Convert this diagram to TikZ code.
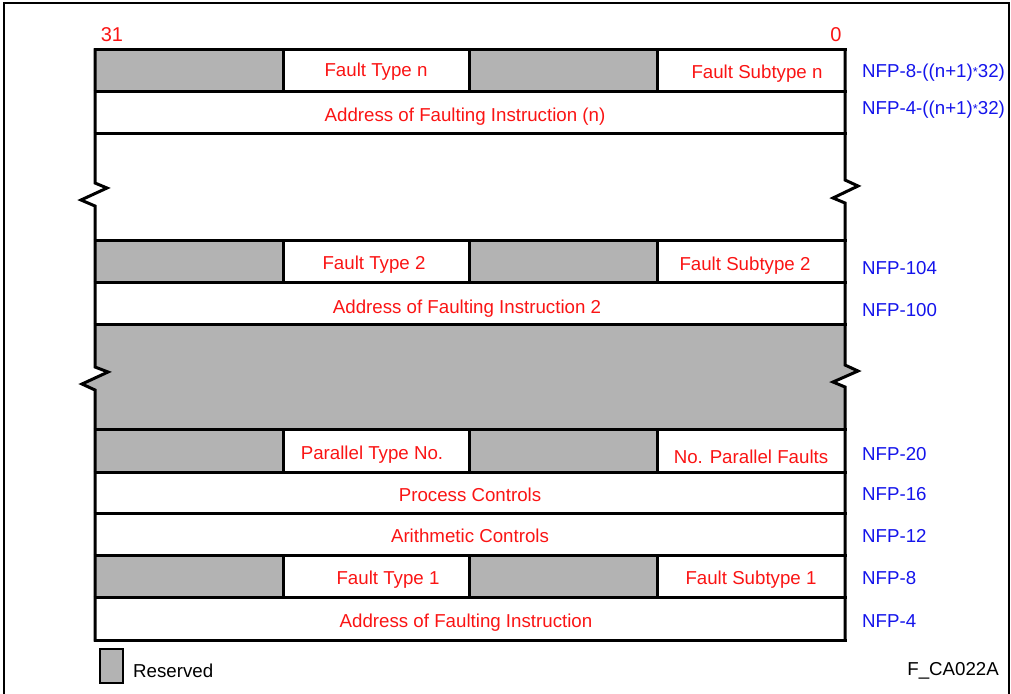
\documentclass[tikz,border=0pt]{standalone}
\usepackage{fontspec}
\setmainfont{Liberation Sans}
\definecolor{cellgray}{RGB}{179,179,179}
\definecolor{txtred}{RGB}{250,20,20}
\definecolor{txtblue}{RGB}{20,20,235}
\tikzset{
  lbl/.style={inner sep=0pt, font=\fontsize{18.7}{20}\selectfont, text=txtred, anchor=center, yshift=-1.5pt},
  addr/.style={inner sep=0pt, font=\fontsize{18.7}{20}\selectfont, text=txtblue, anchor=west, yshift=-1.5pt},
  blk/.style={inner sep=0pt, font=\fontsize{18.7}{20}\selectfont, text=black, yshift=-1pt},
  grid/.style={line width=3pt, draw=black},
  gcell/.style={fill=cellgray}
}
\newcommand{\smallast}{\raisebox{0.05ex}{\fontsize{13}{13}\selectfont *}}
\begin{document}
\begin{tikzpicture}[x=1pt,y=-1pt]
\useasboundingbox (0,0) rectangle (1011,693);
% outer frame
\draw[line width=2pt] (4,700) -- (4,3) -- (1009,3) -- (1009,700);
% gray cells in 4-column rows
\foreach \ya/\yb in {50/91,240/282,429/472,555/597}{
  \fill[gcell] (95,\ya) rectangle (283,\yb);
  \fill[gcell] (469,\ya) rectangle (657,\yb);
}
% gray break area
\fill[gcell] (95,324) -- (845,324) -- (845,365) -- (858,371) -- (833,382) -- (845,387) -- (845,429)
  -- (95,429) -- (95,390) -- (82,384) -- (108,372) -- (95,367) -- cycle;
% horizontal lines
\foreach \y in {50,91,133,240,282,324,429,472,513,555,597,640}{
  \draw[grid] (93.5,\y) -- (846.5,\y);
}
% left border with breaks
\draw[grid, line join=miter] (95,48.5) -- (95,183) -- (107,188) -- (81,200) -- (95,206) -- (95,367) -- (108,372) -- (82,384) -- (95,390) -- (95,641.5);
% right border with breaks
\draw[grid, line join=miter] (845,48.5) -- (845,180) -- (858,186) -- (833,198) -- (845,203) -- (845,365) -- (858,371) -- (833,382) -- (845,387) -- (845,641.5);
% column dividers
\foreach \ya/\yb in {50/91,240/282,429/472,555/597}{
  \foreach \x in {283,469,657}{
    \draw[grid] (\x,\ya) -- (\x,\yb);
  }
}
% bit numbers
\node[lbl, font=\fontsize{20}{22}\selectfont] (b31) at (112,33) {31};
\node[lbl, font=\fontsize{20}{22}\selectfont] (b0) at (836,33) {0};
% cell texts
\node[lbl] (ftn) at (376,70) {Fault Type n};
\node[lbl] (fsn) at (757,72) {Fault Subtype n};
\node[lbl] (afn) at (465,115) {Address of Faulting Instruction (n)};
\node[lbl] (ft2) at (374,263) {Fault Type 2};
\node[lbl] (fs2) at (745,264) {Fault Subtype 2};
\node[lbl] (af2) at (467,307) {Address of Faulting Instruction 2};
\node[lbl] (ptn) at (372,453) {Parallel Type No.};
\node[lbl] (npf) at (751,455) {No. Parallel Faults};
\node[lbl] (pc) at (470,493) {Process Controls};
\node[lbl] (ac) at (470,534) {Arithmetic Controls};
\node[lbl] (ft1) at (388,578) {Fault Type 1};
\node[lbl] (fs1) at (751,578) {Fault Subtype 1};
\node[lbl] (af1) at (466,621) {Address of Faulting Instruction};
% address labels
\node[addr] (n1) at (862,71) {NFP-8-((n+1)\smallast32)};
\node[addr] (n2) at (862,108) {NFP-4-((n+1)\smallast32)};
\node[addr] (n3) at (862,267) {NFP-104};
\node[addr] (n4) at (862,309) {NFP-100};
\node[addr] (n5) at (862,453) {NFP-20};
\node[addr] (n6) at (862,493) {NFP-16};
\node[addr] (n7) at (862,534) {NFP-12};
\node[addr] (n8) at (862,577) {NFP-8};
\node[addr] (n9) at (862,620) {NFP-4};
% legend
\draw[line width=2pt, fill=cellgray] (100,649) rectangle (123,683);
\node[blk, anchor=west] (res) at (133,670) {Reserved};
\node[blk, anchor=east] (fig) at (999,670) {F\_CA022A};
\end{tikzpicture}
\end{document}
